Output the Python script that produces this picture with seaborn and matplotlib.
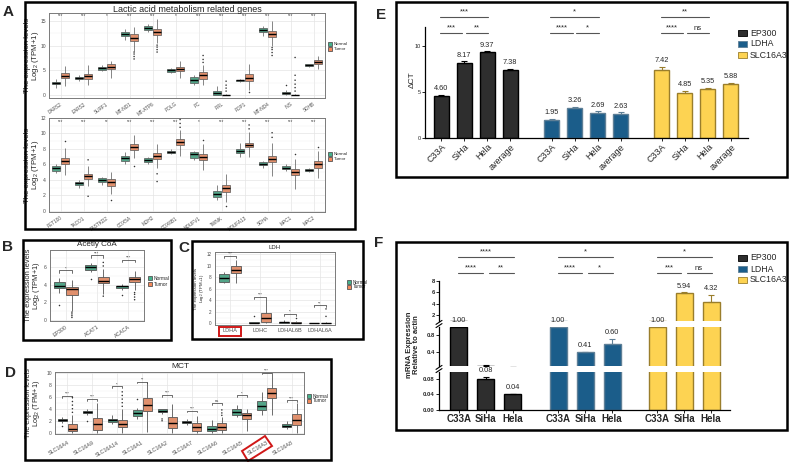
import numpy as np
import pandas as pd
import matplotlib
matplotlib.use("Agg")
import matplotlib.pyplot as plt
import seaborn as sns
from matplotlib.patches import Rectangle, Polygon
from matplotlib.lines import Line2D
from matplotlib.ticker import MultipleLocator

# ---------------------------------------------------------------- data
GROUPS = ["Normal", "Tumor"]

A1_genes = ["DARS2", "EARS2", "SURF1", "MT-ND1", "MT-ATP6", "POLG", "PC", "PRL",
            "PDP1", "MT-ND4", "INS", "SDHB"]
A1_normal = [(1.5, 2.3, 2.5, 2.7, 3.3), (2.9, 3.2, 3.5, 3.7, 4.0), (4.8, 5.1, 5.4, 5.7, 6.0),
             (11.2, 11.9, 12.3, 12.7, 13.3), (12.7, 13.2, 13.6, 14.0, 14.3), (4.4, 4.7, 5.0, 5.3, 5.5),
             (2.0, 2.5, 3.0, 3.6, 4.0), (0.0, 0.1, 0.4, 0.8, 1.8), (2.6, 2.8, 2.95, 3.1, 3.2),
             (12.0, 12.7, 13.2, 13.6, 14.0), (0.0, 0.2, 0.4, 0.6, 1.0), (5.6, 5.8, 6.0, 6.2, 6.3)]
A1_tumor = [(1.8, 3.4, 3.9, 4.5, 5.8), (2.0, 3.3, 3.8, 4.3, 6.0), (3.5, 5.2, 5.7, 6.2, 6.9),
            (9.0, 10.9, 11.5, 12.3, 13.8), (10.5, 12.2, 12.8, 13.3, 15.4), (3.4, 4.8, 5.2, 5.6, 6.8),
            (2.0, 3.3, 4.0, 4.6, 6.0), (0.0, 0.0, 0.02, 0.1, 0.3), (1.0, 2.8, 3.5, 4.2, 6.3),
            (10.0, 11.8, 12.4, 12.9, 15.0), (0.0, 0.0, 0.02, 0.1, 0.3), (5.3, 6.3, 6.6, 7.0, 7.8)]
A1_normal_out = {"INS": [2.1]}
A1_tumor_out = {"MT-ND1": [7.3, 7.8, 8.3, 8.7], "MT-ATP6": [8.7, 9.2, 9.7, 10.1],
                "PC": [6.6, 7.2, 8.0], "PRL": [0.8, 1.4, 2.0, 2.8], "PDP1": [0.7],
                "MT-ND4": [8.0, 8.6, 9.2, 9.6], "INS": [0.8, 1.5, 2.2, 3.0, 4.0, 7.6]}
A1_sig = ["***", "***", "*", "***", "***", "*", "***", "***", "***", "***", "***", "***"]

A2_genes = ["PET100", "TACO1", "FASTKD2", "COX5A", "MDH2", "COX6B1", "NDUFV1", "TWNK",
            "NDUFA13", "SDHA", "MPC1", "MPC2"]
A2_normal = [(4.9, 5.2, 5.5, 5.8, 6.1), (3.0, 3.3, 3.55, 3.8, 4.0), (3.4, 3.7, 3.95, 4.2, 4.4),
             (6.0, 6.4, 6.8, 7.1, 7.6), (6.0, 6.3, 6.55, 6.8, 7.0), (7.3, 7.5, 7.65, 7.8, 8.0),
             (6.6, 6.8, 7.3, 7.6, 7.8), (1.4, 1.8, 2.2, 2.6, 3.3), (7.0, 7.5, 7.7, 8.0, 8.8),
             (5.5, 5.9, 6.1, 6.3, 6.5), (5.1, 5.4, 5.6, 5.8, 6.0), (5.0, 5.2, 5.3, 5.4, 5.5)]
A2_tumor = [(4.7, 6.1, 6.5, 6.9, 8.1), (3.2, 4.1, 4.5, 4.8, 5.8), (2.2, 3.2, 3.7, 4.1, 5.0),
            (6.8, 7.9, 8.2, 8.6, 9.8), (5.5, 6.7, 7.1, 7.5, 8.6), (7.1, 8.5, 8.9, 9.3, 10.4),
            (5.3, 6.6, 7.0, 7.4, 8.6), (1.2, 2.5, 2.95, 3.3, 4.8), (7.0, 8.2, 8.5, 8.8, 10.2),
            (4.5, 6.3, 6.7, 7.1, 8.8), (2.9, 4.6, 5.0, 5.4, 6.7), (4.2, 5.6, 6.0, 6.4, 7.8)]
A2_normal_out = {}
A2_tumor_out = {"PET100": [9.0], "TACO1": [1.9, 6.6], "FASTKD2": [1.4], "COX5A": [5.8],
                "MDH2": [3.8, 4.8], "COX6B1": [10.8, 11.3, 11.8], "NDUFV1": [9.2], "TWNK": [0.6],
                "NDUFA13": [10.6, 11.1], "SDHA": [9.5, 10.1], "MPC1": [7.3], "MPC2": [8.2]}
A2_sig = ["***", "***", "**", "***", "***", "***", "*", "***", "***", "***", "***", "***"]

B_genes = ["EP300", "ACAT1", "ACACA"]
B_normal = [(3.0, 3.6, 3.8, 4.3, 4.7), (5.4, 5.6, 5.95, 6.2, 6.4), (3.4, 3.6, 3.8, 3.9, 4.1)]
B_tumor = [(1.0, 2.8, 3.45, 3.7, 4.5), (2.9, 4.2, 4.45, 4.9, 5.8), (3.4, 4.3, 4.6, 4.9, 5.5)]
B_normal_out = {"EP300": [1.7], "ACAT1": [4.6], "ACACA": [2.8]}
B_tumor_out = {"EP300": [0.3, 0.5, 0.7, 0.9], "ACAT1": [2.7, 6.1, 6.5], "ACACA": [2.3, 2.6, 2.9, 3.1]}
B_bracket = [5.6, 7.3, 6.8]
B_sig = ["*", "***", "***"]

C_genes = ["LDHA", "LDHC", "LDHAL6B", "LDHAL6A"]
C_normal = [(7.0, 7.2, 7.9, 8.5, 9.0), (0.0, 0.0, 0.1, 0.2, 0.3), (0.0, 0.0, 0.15, 0.3, 0.5),
            (0.0, 0.0, 0.02, 0.05, 0.1)]
C_tumor = [(7.0, 8.7, 9.3, 10.0, 11.0), (0.0, 0.3, 1.0, 1.8, 4.3), (0.0, 0.0, 0.05, 0.15, 0.4),
           (0.0, 0.0, 0.02, 0.1, 0.3)]
C_normal_out = {"LDHC": [1.2]}
C_tumor_out = {"LDHAL6B": [1.0], "LDHAL6A": [1.2, 2.5]}
C_bracket = [11.7, 4.6, 1.7, 3.1]
C_sig = ["***", "***", "*", "**"]

D_genes = ["SLC16A4", "SLC16A9", "SLC16A14", "SLC16A1", "SLC16A2", "SLC16A7", "SLC16A6",
           "SLC16A5", "SLC16A3", "SLC16A8"]
D_normal = [(1.6, 2.0, 2.15, 2.3, 2.6), (3.0, 3.3, 3.5, 3.7, 3.9), (1.5, 1.8, 2.05, 2.3, 3.0),
            (2.3, 2.8, 3.3, 3.8, 4.1), (3.2, 3.5, 3.7, 3.9, 4.0), (1.3, 1.6, 1.85, 2.0, 2.3),
            (0.0, 0.3, 0.7, 1.1, 2.2), (2.6, 3.0, 3.5, 3.9, 4.6), (3.0, 3.8, 4.5, 5.3, 6.8),
            (0.6, 0.9, 1.15, 1.4, 2.0)]
D_tumor = [(0.0, 0.3, 0.7, 1.4, 3.0), (0.0, 0.5, 1.4, 2.5, 5.0), (0.0, 0.9, 1.5, 2.2, 4.0),
           (0.2, 3.6, 4.7, 5.7, 8.4), (0.0, 0.8, 1.7, 2.7, 4.8), (0.0, 0.3, 0.9, 1.6, 2.8),
           (0.0, 0.5, 1.0, 1.6, 2.6), (0.3, 2.3, 2.9, 3.3, 3.9), (3.0, 5.8, 6.6, 7.4, 9.7),
           (0.0, 1.3, 2.2, 3.1, 5.0)]
D_normal_out = {"SLC16A4": [1.2], "SLC16A9": [2.0], "SLC16A1": [5.6], "SLC16A2": [2.0, 2.3]}
D_tumor_out = {"SLC16A4": [3.4, 4.0, 4.6, 5.2, 5.9], "SLC16A14": [4.4, 5.0, 5.6, 6.2, 6.8],
               "SLC16A6": [2.9, 3.3, 3.8]}
D_bracket = [6.1, 5.6, 7.7, 8.5, 6.3, 3.7, 5.0, 6.2, 10.0, 5.4]
D_sig = ["***", "***", "*", "**", "***", "***", "ns", "*", "***", "***"]

E_cells = ["C33A", "SiHa", "Hela", "average"]
E_genes = ["EP300", "LDHA", "SLC16A3"]
E_EP300 = [4.60, 8.17, 9.37, 7.38]
E_EP300_sd = [0.12, 0.15, 0.05, 0.12]
E_LDHA = [1.95, 3.26, 2.69, 2.63]
E_LDHA_sd = [0.15, 0.12, 0.20, 0.15]
E_SLC16A3 = [7.42, 4.85, 5.35, 5.88]
E_SLC16A3_sd = [0.30, 0.30, 0.12, 0.15]
E_sig_all = ["***", "*", "**"]
E_sig_left = ["***", "****", "****"]
E_sig_right = ["**", "*", "ns"]

F_cells = ["C33A", "SiHa", "Hela"]
F_EP300 = [1.00, 0.08, 0.04]
F_EP300_sd = [0.0, 0.006, 0.002]
F_LDHA = [1.00, 0.41, 0.60]
F_LDHA_sd = [0.0, 0.004, 0.12]
F_SLC16A3 = [1.00, 5.94, 4.32]
F_SLC16A3_sd = [0.0, 0.08, 1.2]
F_sig_all = ["****", "*", "*"]
F_sig_left = ["****", "****", "***"]
F_sig_right = ["**", "*", "ns"]

# ---------------------------------------------------------------- style
sns.set_theme(style="white")
plt.rcParams["font.family"] = ["Liberation Sans", "DejaVu Sans"]
plt.rcParams["mathtext.default"] = "regular"

PAL = {"Normal": "#45b28c", "Tumor": "#f3895a"}
GENE_FACE = {"EP300": "#2e2e2e", "LDHA": "#1b5d8a", "SLC16A3": "#fdd352"}
GENE_EDGE = {"EP300": "#000000", "LDHA": "#5e7f96", "SLC16A3": "#9a7e2c"}

W, H = 789, 462
fig = plt.figure(figsize=(W / 100, H / 100), dpi=100)


def add_ax(l, t, r, b):
    return fig.add_axes([l / W, 1 - b / H, (r - l) / W, (b - t) / H])


def frame(l, t, r, b, lw=1.8):
    fig.patches.append(Rectangle((l / W, 1 - b / H), (r - l) / W, (b - t) / H,
                                 transform=fig.transFigure, fill=False, lw=lw,
                                 ec="black", zorder=20))


def ftext(x, y, s, **kw):
    fig.text(x / W, 1 - y / H, s, **kw)


def px_legend(x, y, dy, labels, faces, edges, w, h, fs, gap=2.0):
    for i, (lab, fc, ec) in enumerate(zip(labels, faces, edges)):
        yc = y + i * dy
        fig.patches.append(Rectangle((x / W, 1 - (yc + h / 2) / H), w / W, h / H,
                                     transform=fig.transFigure, fc=fc, ec=ec, lw=0.6))
        ftext(x + w + gap, yc, lab, fontsize=fs, va="center", ha="left")


def box_df(genes, normal, tumor, n_out, t_out):
    rows = []
    for g, ns, ts in zip(genes, normal, tumor):
        rows += [(g, "Normal", v, "box") for v in ns]
        rows += [(g, "Tumor", v, "box") for v in ts]
        rows += [(g, "Normal", v, "out") for v in n_out.get(g, [])]
        rows += [(g, "Tumor", v, "out") for v in t_out.get(g, [])]
    return pd.DataFrame(rows, columns=["gene", "group", "value", "kind"])


def box_panel(ax, genes, normal, tumor, n_out, t_out, ylim, ystep, xfs, yfs, rot, lw=0.5, xpad=1):
    df = box_df(genes, normal, tumor, n_out, t_out)
    sns.boxplot(data=df[df.kind == "box"], x="gene", y="value", hue="group", order=genes,
                hue_order=GROUPS, palette=PAL, width=0.8, gap=0.1, whis=(0, 100),
                showfliers=False, showcaps=False, linecolor="#555555", linewidth=lw,
                medianprops=dict(color="black", linewidth=1.0), legend=False, ax=ax)
    out = df[df.kind == "out"]
    if len(out):
        sns.stripplot(data=out, x="gene", y="value", hue="group", order=genes,
                      hue_order=GROUPS, dodge=True, jitter=False,
                      palette={"Normal": "#333333", "Tumor": "#333333"}, size=1.1,
                      linewidth=0, legend=False, ax=ax)
    ax.set_xlim(-0.5, len(genes) - 0.5)
    ax.set_ylim(*ylim)
    ticks = np.arange(0, ylim[1] + 1e-6, ystep)
    ax.set_yticks(ticks)
    ax.set_yticklabels([f"{t:g}" for t in ticks], fontsize=yfs, color="#4d4d4d")
    ax.yaxis.set_minor_locator(MultipleLocator(ystep / 2))
    ax.set_xticks(range(len(genes)))
    if rot:
        ax.set_xticklabels(genes, rotation=rot, ha="right", rotation_mode="anchor",
                           fontsize=xfs, color="#4d4d4d")
    else:
        ax.set_xticklabels(genes, fontsize=xfs, color="#4d4d4d")
    ax.set_xlabel("")
    ax.set_ylabel("")
    ax.set_facecolor("white")
    ax.set_axisbelow(True)
    ax.grid(True, which="major", color="#e4e4e4", lw=0.5)
    ax.grid(True, which="minor", axis="y", color="#efefef", lw=0.35)
    for s in ax.spines.values():
        s.set_visible(True)
        s.set_color("#7a7a7a")
        s.set_linewidth(0.7)
    ax.tick_params(which="major", length=1.5, width=0.4, color="#555555", pad=0.8)
    ax.tick_params(axis="x", which="major", pad=xpad)
    ax.tick_params(which="minor", length=0)


def brackets(ax, heights, sigs, fs, tick):
    for i, (h, s) in enumerate(zip(heights, sigs)):
        ax.plot([i - 0.2, i - 0.2, i + 0.2, i + 0.2], [h - tick, h, h, h - tick],
                color="#333333", lw=0.5, clip_on=False)
        ax.text(i, h, s, ha="center", va="bottom", fontsize=fs, color="#333333", clip_on=False)


def ylabel_px(ax, text, right_px, ax_l, ax_r, fs):
    ax.set_ylabel(text, fontsize=fs, linespacing=0.9)
    ax.yaxis.set_label_coords((right_px - ax_l) / (ax_r - ax_l), 0.5)


YLAB = "The expression levels\nLog$_2$ (TPM+1)"

# ---------------------------------------------------------------- panel A
axA1 = add_ax(49, 13, 325, 98)
box_panel(axA1, A1_genes, A1_normal, A1_tumor, A1_normal_out, A1_tumor_out,
          (-0.6, 16.6), 5, 3.4, 3.6, 35)
for i, s in enumerate(A1_sig):
    axA1.text(i, 16.0, s, ha="center", va="center", fontsize=3.3, color="#444444")
ylabel_px(axA1, YLAB, 41, 49, 325, 5.6)
ftext(187, 9, "Lactic acid metabolism related genes", fontsize=6.5, ha="center", va="center")
px_legend(328, 44, 5, GROUPS, [PAL[g] for g in GROUPS], ["#555555"] * 2, 4, 4, 3.2, 1.5)

axA2 = add_ax(49, 118, 325, 212)
box_panel(axA2, A2_genes, A2_normal, A2_tumor, A2_normal_out, A2_tumor_out,
          (-0.13, 12.0), 2, 3.4, 3.6, 35)
for i, s in enumerate(A2_sig):
    axA2.text(i, 11.6, s, ha="center", va="center", fontsize=3.3, color="#444444")
ylabel_px(axA2, YLAB, 41, 49, 325, 5.6)
px_legend(328, 154, 5, GROUPS, [PAL[g] for g in GROUPS], ["#555555"] * 2, 4, 4, 3.2, 1.5)

# ---------------------------------------------------------------- panel B
axB = add_ax(50, 250, 144, 321)
box_panel(axB, B_genes, B_normal, B_tumor, B_normal_out, B_tumor_out,
          (-0.1, 7.9), 2, 3.8, 3.6, 35, lw=0.6)
brackets(axB, B_bracket, B_sig, 3.2, 0.25)
ylabel_px(axB, YLAB, 42, 50, 144, 5.4)
ftext(97, 248, "Acetly CoA", fontsize=5.8, ha="center", va="bottom")
px_legend(148, 278, 6, GROUPS, [PAL[g] for g in GROUPS], ["#555555"] * 2, 4, 4, 3.5, 1.5)

# ---------------------------------------------------------------- panel C
axC = add_ax(215, 252, 335, 325)
box_panel(axC, C_genes, C_normal, C_tumor, C_normal_out, C_tumor_out,
          (-0.3, 12.4), 2, 4.0, 3.3, 0, lw=0.6)
brackets(axC, C_bracket, C_sig, 3.0, 0.35)
ylabel_px(axC, YLAB, 205.5, 215, 335, 3.2)
ftext(275, 250, "LDH", fontsize=4.3, ha="center", va="bottom")
px_legend(347, 282, 5, GROUPS, [PAL[g] for g in GROUPS], ["#555555"] * 2, 4, 4, 3.3, 1.5)
fig.patches.append(Rectangle((219 / W, 1 - 336 / H), 22 / W, 9 / H, transform=fig.transFigure,
                             fill=False, ec="#d01818", lw=1.4, zorder=15))

# ---------------------------------------------------------------- panel D
axD = add_ax(55, 372, 304, 434)
box_panel(axD, D_genes, D_normal, D_tumor, D_normal_out, D_tumor_out,
          (-0.2, 10.1), 2, 3.9, 3.6, 30, lw=0.6, xpad=3)
brackets(axD, D_bracket, D_sig, 3.0, 0.3)
ylabel_px(axD, YLAB, 42, 55, 304, 5.2)
ftext(180, 367, "MCT", fontsize=6, ha="center", va="center")
px_legend(307, 396, 5, GROUPS, [PAL[g] for g in GROUPS], ["#555555"] * 2, 4, 4, 3.5, 1.5)
poly = [(242, 451), (265, 436), (272, 446), (248, 461)]
fig.patches.append(Polygon([(x / W, 1 - y / H) for x, y in poly], closed=True,
                           transform=fig.transFigure, fill=False, ec="#d01818", lw=1.4, zorder=15))

# ---------------------------------------------------------------- panel E
E_vals = {"EP300": E_EP300, "LDHA": E_LDHA, "SLC16A3": E_SLC16A3}
E_sds = {"EP300": E_EP300_sd, "LDHA": E_LDHA_sd, "SLC16A3": E_SLC16A3_sd}
E_step = 4.8
rows = []
for gi, g in enumerate(E_genes):
    for ci, c in enumerate(E_cells):
        rows.append((g, c, gi * E_step + ci, E_vals[g][ci], E_sds[g][ci]))
dfE = pd.DataFrame(rows, columns=["gene", "cell", "pos", "value", "sd"])

axE = add_ax(425, 27, 748, 138)
for g in E_genes:
    sub = dfE[dfE.gene == g]
    sns.barplot(data=sub, x="pos", y="value", native_scale=True, color=GENE_FACE[g],
                edgecolor=GENE_EDGE[g], linewidth=1.0, width=0.65, errorbar=None,
                saturation=1, ax=axE)
    axE.errorbar(sub.pos, sub.value, yerr=[np.zeros(len(sub)), sub.sd], fmt="none",
                 ecolor=GENE_EDGE[g], elinewidth=0.8, capsize=2, capthick=0.8)
    for p, v, s in zip(sub.pos, sub.value, sub.sd):
        axE.annotate(f"{v:.2f}", (p, v + s), xytext=(0, 2), textcoords="offset points",
                     ha="center", va="bottom", fontsize=5.3)
axE.set_xlim(-0.7, 2 * E_step + 3.74)
axE.set_ylim(0, 12.07)
axE.set_xticks(dfE.pos)
axE.set_xticklabels(dfE.cell, rotation=45, ha="right", rotation_mode="anchor", fontsize=6.5)
axE.set_yticks([0, 5, 10])
axE.set_yticklabels(["0", "5", "10"], fontsize=4)
axE.set_xlabel("")
axE.set_ylabel("")
axE.set_facecolor("none")
sns.despine(ax=axE)
for s in ("left", "bottom"):
    axE.spines[s].set_color("black")
    axE.spines[s].set_linewidth(0.9)
axE.tick_params(axis="both", length=2, width=0.6, color="black", pad=1, left=True, bottom=True)
ftext(412, 80, "ΔCT", fontsize=6, rotation=90, ha="center", va="center")
for gi in range(3):
    c0 = gi * E_step
    kw = dict(color="#555555", lw=0.8, clip_on=False)
    axE.plot([c0 - 0.05, c0 + 2.05], [13.15, 13.15], **kw)
    axE.plot([c0 - 0.05, c0 + 0.92], [11.4, 11.4], **kw)
    axE.plot([c0 + 1.08, c0 + 2.05], [11.4, 11.4], **kw)
    axE.text(c0 + 1.0, 13.3, E_sig_all[gi], ha="center", va="bottom", fontsize=5.5)
    axE.text(c0 + 0.45, 11.55, E_sig_left[gi], ha="center", va="bottom", fontsize=5.5)
    axE.text(c0 + 1.55, 11.55, E_sig_right[gi], ha="center", va="bottom", fontsize=5.5)
px_legend(738, 33, 11, E_genes, [GENE_FACE[g] for g in E_genes],
          [GENE_EDGE[g] for g in E_genes], 9, 6, 6.3, 3)

# ---------------------------------------------------------------- panel F
F_vals = {"EP300": F_EP300, "LDHA": F_LDHA, "SLC16A3": F_SLC16A3}
F_sds = {"EP300": F_EP300_sd, "LDHA": F_LDHA_sd, "SLC16A3": F_SLC16A3_sd}
F_step = 3.67
rows = []
for gi, g in enumerate(E_genes):
    for ci, c in enumerate(F_cells):
        rows.append((g, c, gi * F_step + ci, F_vals[g][ci], F_sds[g][ci]))
dfF = pd.DataFrame(rows, columns=["gene", "cell", "pos", "value", "sd"])

axFt = add_ax(439, 281, 730, 321)
axFm = add_ax(439, 327, 730, 366)
axFb = add_ax(439, 372, 730, 410)
F_lims = {axFt: (1.0, 8.0), axFm: (0.07, 1.0), axFb: (0.0, 0.098)}
F_ticks = {axFt: ([2, 4, 6, 8], ["2", "4", "6", "8"]),
           axFm: ([0.4, 0.8], ["0.4", "0.8"]),
           axFb: ([0.0, 0.04, 0.08], ["0.00", "0.04", "0.08"])}
for ax in (axFt, axFm, axFb):
    for g in E_genes:
        sub = dfF[dfF.gene == g]
        sns.barplot(data=sub, x="pos", y="value", native_scale=True, color=GENE_FACE[g],
                    edgecolor=GENE_EDGE[g], linewidth=1.0, width=0.63, errorbar=None,
                    saturation=1, ax=ax)
        m = sub.sd > 0
        ax.errorbar(sub.pos[m], sub.value[m], yerr=[np.zeros(m.sum()), sub.sd[m]], fmt="none",
                    ecolor=GENE_EDGE[g], elinewidth=0.8, capsize=2.5, capthick=0.8)
    ax.set_xlim(-0.74, 2 * F_step + 2.7)
    ax.set_ylim(*F_lims[ax])
    ax.set_yticks(F_ticks[ax][0])
    ax.set_yticklabels(F_ticks[ax][1], fontsize=4.2, fontweight="bold")
    ax.set_xlabel("")
    ax.set_ylabel("")
    ax.set_facecolor("none")
    for s in ("top", "right", "bottom"):
        ax.spines[s].set_visible(False)
    ax.spines["left"].set_color("black")
    ax.spines["left"].set_linewidth(0.9)
    ax.tick_params(axis="y", length=2, width=0.6, color="black", pad=1, left=True)
    ax.tick_params(axis="x", length=0)
    ax.set_xticks([])
axFb.spines["bottom"].set_visible(True)
axFb.spines["bottom"].set_color("black")
axFb.spines["bottom"].set_linewidth(0.9)
axFb.set_xticks(dfF.pos)
axFb.set_xticklabels(dfF.cell, fontsize=7, fontweight="bold")
axFb.tick_params(axis="x", length=2, width=0.6, color="black", pad=1, bottom=True)

for p, v, s in zip(dfF.pos, dfF.value, dfF.sd):
    top = v + s
    ax = axFt if top > 1.0 else (axFm if v >= 0.098 else axFb)
    ax.annotate(f"{v:.2f}", (p, top), xytext=(0, 2), textcoords="offset points",
                ha="center", va="bottom", fontsize=5.3, annotation_clip=False)

for gi in range(3):
    c0 = gi * F_step
    kw = dict(color="#555555", lw=0.8, clip_on=False)
    axFt.plot([c0 - 0.02, c0 + 2.02], [12.2, 12.2], **kw)
    axFt.plot([c0 - 0.02, c0 + 0.9], [9.4, 9.4], **kw)
    axFt.plot([c0 + 1.1, c0 + 2.02], [9.4, 9.4], **kw)
    axFt.text(c0 + 1.0, 12.45, F_sig_all[gi], ha="center", va="bottom", fontsize=5.5)
    axFt.text(c0 + 0.45, 9.65, F_sig_left[gi], ha="center", va="bottom", fontsize=5.5)
    axFt.text(c0 + 1.55, 9.65, F_sig_right[gi], ha="center", va="bottom", fontsize=5.5)

for yg in (324, 369):
    for dy in (-1.6, 1.6):
        fig.lines.append(Line2D([436 / W, 442 / W], [1 - (yg + dy + 2) / H, 1 - (yg + dy - 2) / H],
                                transform=fig.transFigure, color="black", lw=0.8))
ftext(413, 345, "mRNA Expression\nRelative to actin", fontsize=5.5, fontweight="bold",
      rotation=90, ha="center", va="center", linespacing=1.1)
px_legend(738, 258, 11, E_genes, [GENE_FACE[g] for g in E_genes],
          [GENE_EDGE[g] for g in E_genes], 9, 6, 6.3, 3)

# ---------------------------------------------------------------- frames & letters
frame(25, 2, 355, 229)
frame(23, 240, 171, 340)
frame(192, 241, 363, 339)
frame(25, 359, 331, 460)
frame(396, 2, 787, 177)
frame(396, 242, 787, 430)
for lab, x, y in [("A", 8, 12), ("B", 8, 247), ("C", 184, 248), ("D", 10, 373),
                  ("E", 381, 15), ("F", 379, 243)]:
    ftext(x, y, lab, fontsize=11, fontweight="bold", ha="center", va="center")

fig.savefig("out.png", dpi=100)
